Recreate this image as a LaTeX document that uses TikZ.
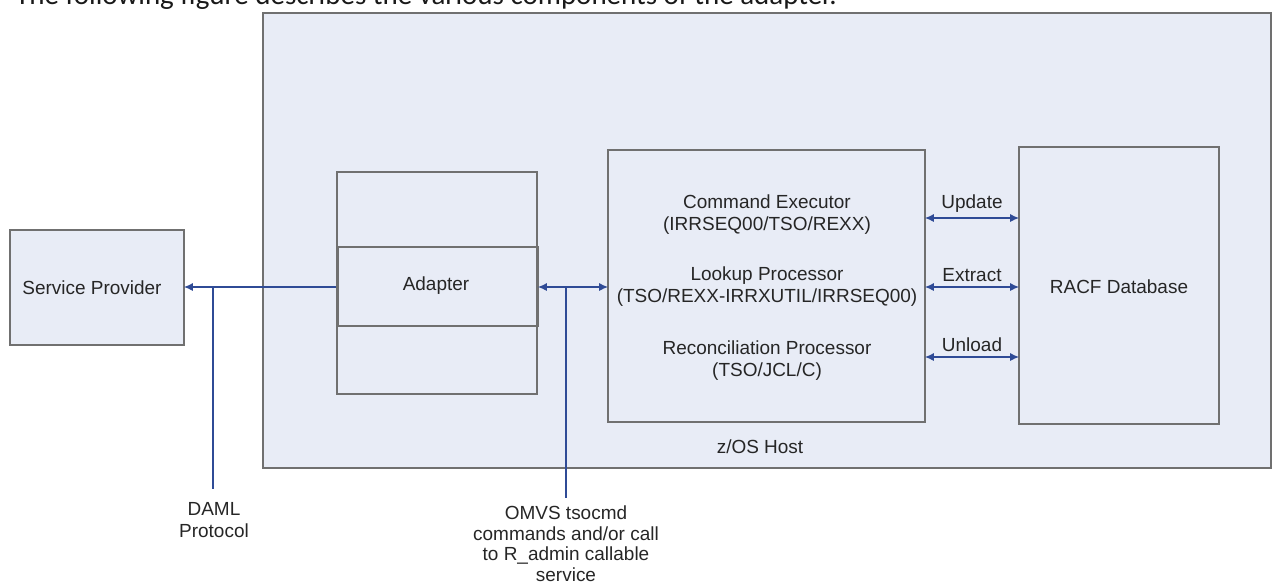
\documentclass[tikz,border=0pt]{standalone}
\usepackage{fontspec}
\setmainfont{Liberation Sans}
\newfontfamily\introfont{Carlito}
\usetikzlibrary{arrows.meta}
\definecolor{hostfill}{HTML}{E8ECF6}
\definecolor{boxline}{HTML}{707070}
\definecolor{linkblue}{HTML}{2F4B96}
\definecolor{labeltext}{HTML}{262626}
\tikzset{
  box/.style={draw=boxline, line width=0.8pt, inner sep=0pt, outer sep=0pt},
  lbl/.style={text=labeltext, font=\fontsize{10.8}{12.6}\selectfont, align=center, inner sep=0pt},
  link/.style={draw=linkblue, line width=0.6pt},
  both/.style={link, {Latex[length=5pt,width=4.5pt]}-{Latex[length=5pt,width=4.5pt]}},
  toleft/.style={link, -{Latex[length=5pt,width=4.5pt]}}
}
% name, centre x, centre y, width, height
\newcommand{\block}[5]{\node[box, minimum width=#4*0.02cm, minimum height=#5*0.02cm] (#1) at (#2,#3) {};}
\newcommand{\tag}[4]{\node[lbl] (#1) at (#2,#3) {#4};}

\begin{document}
\begin{tikzpicture}[x=0.02cm, y=-0.02cm]
        \useasboundingbox (0,0) rectangle (1272,586);

        % intro line, cut by the page
        \node[anchor=base west, inner sep=0pt, font=\introfont\fontsize{16.5}{19}\selectfont, text=black!90] (intro) at (15,4) {The following figure describes the various components of the adapter.};

        % host
        \node[box, fill=hostfill, minimum width=1008*0.02cm, minimum height=455*0.02cm] (host) at (767,240.5) {};
        \tag{hostname}{760}{447}{z/OS Host}

        % service provider
        \node[box, fill=hostfill, minimum width=174*0.02cm, minimum height=115*0.02cm] (sp) at (97,287.5) {};
        \tag{sptext}{92}{288}{Service Provider}

        % adapter
        \block{adcol}{437}{283}{200}{222}
        \block{adapter}{438}{286.5}{200}{79}
        \tag{adtext}{436}{286}{Adapter}

        % processors
        \block{procs}{766.5}{286}{317}{272}
        \tag{cmdexec}{767}{215}{Command Executor\\(IRRSEQ00/TSO/REXX)}
        \tag{lookup}{767}{287}{Lookup Processor\\(TSO/REXX-IRRXUTIL/IRRSEQ00)}
        \tag{recon}{767}{361}{Reconciliation Processor\\(TSO/JCL/C)}

        % database
        \block{racf}{1119}{285.5}{200}{277}
        \tag{racftext}{1119}{287}{RACF Database}

        % rows of the arrows
        \coordinate (rowupd) at (0,218);
        \coordinate (rowext) at (0,287);
        \coordinate (rowunl) at (0,357);

        \draw[both] (procs.east |- rowupd) -- node[lbl, above=3pt] (upd) {Update} (racf.west |- rowupd);
        \draw[both] (procs.east |- rowext) -- node[lbl, above=3pt] (ext) {Extract} (racf.west |- rowext);
        \draw[both] (procs.east |- rowunl) -- node[lbl, above=3pt] (unl) {Unload} (racf.west |- rowunl);

        \draw[both] (adapter.east |- rowext) -- (procs.west |- rowext);
        \draw[toleft] ([xshift=-2*0.02cm]adapter.west |- rowext) -- (sp.east |- rowext);

        % protocol notes
        \coordinate (damltop) at (213,288);
        \coordinate (damlend) at (213,489);
        \coordinate (omvstop) at (566,287);
        \coordinate (omvsend) at (566,498);
        \draw[link] (damltop) -- (damlend);
        \draw[link] (omvstop) -- (omvsend);

        \node[lbl, anchor=north, font=\fontsize{10.8}{12.5}\selectfont] (daml) at (214,502) {DAML\\Protocol};
        \node[lbl, anchor=north, font=\fontsize{10.8}{11.9}\selectfont] (omvs) at (566,505) {OMVS tsocmd\\commands and/or call\\to R\_admin callable\\service};

    \end{tikzpicture}
\end{document}
